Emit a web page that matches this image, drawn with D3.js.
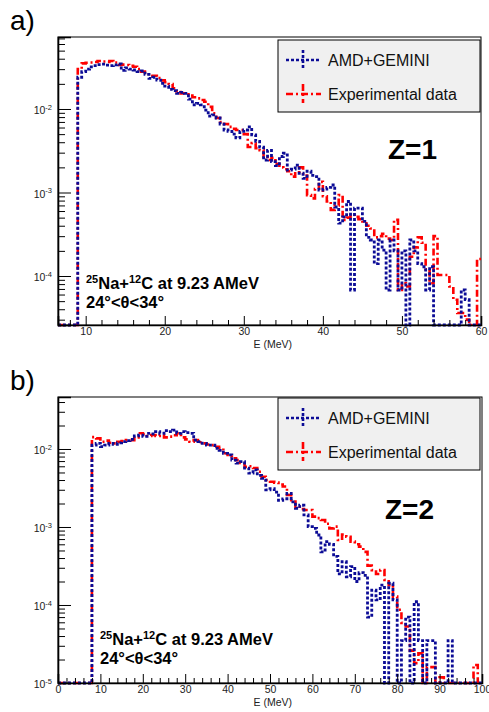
<!DOCTYPE html>
<html>
<head>
<meta charset="utf-8">
<script src="https://cdn.jsdelivr.net/npm/d3@7"></script>
<style>
body { margin: 0; background: #fff; }
svg { display: block; }
text { font-family: "Liberation Sans", Arial, Helvetica, sans-serif; }
</style>
</head>
<body>
<div id="chart"></div>
<script>
// Z=1 spectra: 0.5 MeV bins starting at 9 MeV
const z1Start = 9, z1Width = 0.5;
const z1Amd = [0.024,0.028,0.030,0.032,0.033,0.034,0.0345,0.0335,0.033,0.0337,
  0.0346,0.029,0.031,0.030,0.0293,0.028,0.0285,0.026,0.0233,0.024,
  0.0222,0.0203,0.0188,0.0172,0.0166,0.0154,0.0158,0.0154,0.0131,0.0112,
  0.0117,0.0112,0.0097,0.0082,0.0085,0.0078,0.0066,0.0056,0.0054,0.0050,
  0.0045,0.0054,0.0056,0.0061,0.0049,0.0041,0.0035,0.00245,0.0032,0.00234,
  0.0021,0.0027,0.00295,0.00186,0.0019,0.00213,0.0017,0.00148,0.0018,0.0016,
  0.00155,0.00107,0.0011,0.00115,0.00123,0.00067,0.00043,0.00051,0.00078,0.000068,
  0.00065,0.00065,0.00045,0.00029,0.00027,0.000141,0.00027,0.000204,0.000068,0.00027,
  0.0002,0.000068,0.0002,0,0.00027,0.0002,0.000141,0.000129,0.000068,0.000129,
  0,0,0,0,0,0,0,0.000068,0.000052,0,
  0,0];
const z1Exp = [0.030,0.0352,0.0358,0.036,0.0365,0.0376,0.037,0.0365,0.0376,0.036,
  0.0337,0.034,0.0337,0.033,0.0321,0.030,0.028,0.027,0.0248,0.025,
  0.0235,0.022,0.021,0.0199,0.0177,0.016,0.0154,0.0150,0.0145,0.0138,
  0.0134,0.0128,0.0122,0.0106,0.0089,0.0078,0.0070,0.0066,0.0061,0.0058,
  0.0056,0.0056,0.0050,0.0035,0.0039,0.0034,0.0032,0.0027,0.00245,0.0026,
  0.0022,0.0020,0.0019,0.0018,0.00155,0.0017,0.0020,0.0016,0.00093,0.00085,
  0.0011,0.00134,0.0009,0.00078,0.00062,0.0007,0.00093,0.00047,0.0005,0.00054,
  0.00051,0.00048,0.00045,0.00040,0.00037,0.00029,0.00030,0.00032,0.00028,0.00027,
  0.00047,0.000068,0.000082,0.000075,0.00017,0.00022,0.00029,0.00025,0.00012,0.000082,
  0.0003,0.000103,0.000103,0.000103,0.000075,0.000052,0.000036,0.000036,0.00003,0,
  0,0.00016];

// Z=2 spectra: 1 MeV bins starting at 8 MeV
const z2Start = 8, z2Width = 1;
const z2Amd = [0.0112,0.0118,0.0107,0.0112,0.0118,0.0115,0.012,0.0124,0.0128,0.0133,
  0.0147,0.0151,0.0145,0.0159,0.0156,0.0167,0.0159,0.0172,0.0167,0.0175,
  0.0159,0.0167,0.0162,0.0159,0.013,0.0124,0.0118,0.0112,0.0112,0.0102,
  0.0096,0.0088,0.0084,0.0072,0.0066,0.0069,0.0057,0.0049,0.0054,0.0046,
  0.0042,0.0030,0.0031,0.0028,0.0022,0.0023,0.0027,0.0021,0.00174,0.0019,
  0.00143,0.00101,0.00096,0.00079,0.00048,0.00065,0.0006,0.00042,0.00025,0.00036,
  0.00023,0.00031,0.0002,0.00026,0.00024,0.00007,0.000155,0.000116,0.00018,0,
  0.00019,0.000116,0,0.000035,0.00007,0,0.00011,0.000035,0,0.000035,
  0.000035,0,0,0,0.000035,0,0,0,0,0,
  0,0];
const z2Exp = [0.0142,0.0137,0.0124,0.0128,0.012,0.0118,0.0124,0.0126,0.013,0.013,
  0.0141,0.0159,0.0155,0.0147,0.0151,0.0147,0.0151,0.0141,0.0144,0.015,
  0.0159,0.0141,0.0133,0.0124,0.013,0.0122,0.0118,0.0114,0.0112,0.0107,
  0.0102,0.0088,0.0080,0.0076,0.0072,0.0066,0.0059,0.0060,0.0057,0.0051,
  0.0044,0.0040,0.0038,0.0037,0.0035,0.0033,0.00257,0.0022,0.00182,0.0017,
  0.00165,0.00165,0.00136,0.0013,0.00123,0.0011,0.00096,0.00101,0.00068,0.0008,
  0.00075,0.00065,0.0006,0.00056,0.00048,0.00032,0.00028,0.00025,0.00028,0.00021,
  0.00018,0.000128,0.000087,0.000059,0.000053,0.000026,0.000018,0.000024,0,0.000016,
  0.000016,0,0.0000118,0,0,0,0,0,0,0,
  0.000017,0];

const xTicksZ1 = [10, 20, 30, 40, 50, 60];
const xTicksZ2 = [0, 10, 20, 30, 40, 50, 60, 70, 80, 90, 100];
const legendLabels = ['AMD+GEMINI', 'Experimental data'];

const blue = '#0c0c96', red = '#ff0000';
const blueDash = '3,2', redDash = '7,3,2,3';

const svg = d3.select('#chart').append('svg')
  .attr('width', 489)
  .attr('height', 712);

function steps(vals, start, w, x0) {
  let pts = [{e: x0, v: 0}];
  vals.forEach(function (v, i) { pts.push({e: start + i * w, v: v}); });
  pts.push({e: start + vals.length * w, v: vals[vals.length - 1]});
  return pts;
}

function panel(o) {
  let g = svg.append('g');
  let x = d3.scaleLinear().domain(o.xDomain).range([o.left, o.right]);
  let y = d3.scaleLog().domain(o.yDomain).range([o.bottom, o.top]).clamp(true);
  let yMin = o.yDomain[0];

  // log ticks: majors at decades, minors at 2..9
  let majors = [], minors = [];
  for (let e = -6; e <= -1; e++) {
    for (let k = 1; k <= 9; k++) {
      let v = k * Math.pow(10, e);
      if (v < yMin * 0.999 || v > o.yDomain[1]) continue;
      if (k === 1) majors.push(v); else minors.push(v);
    }
  }
  let xMinor = d3.range(Math.ceil(o.xDomain[0] / 2) * 2, o.xDomain[1], 2)
    .filter(function (d) { return d % 10 !== 0; });

  g.append('rect')
    .attr('x', o.left).attr('y', o.top)
    .attr('width', o.right - o.left).attr('height', o.bottom - o.top)
    .attr('fill', 'none').attr('stroke', '#000').attr('stroke-width', 1);

  // histograms
  let line = d3.line()
    .x(function (d) { return x(d.e); })
    .y(function (d) { return y(d.v > 0 ? d.v : yMin); })
    .curve(d3.curveStepAfter);
  g.append('path')
    .attr('d', line(steps(o.exp, o.start, o.width, o.xDomain[0])))
    .attr('fill', 'none').attr('stroke', red).attr('stroke-width', 2.6)
    .attr('stroke-dasharray', redDash);
  g.append('path')
    .attr('d', line(steps(o.amd, o.start, o.width, o.xDomain[0])))
    .attr('fill', 'none').attr('stroke', blue).attr('stroke-width', 2.8)
    .attr('stroke-dasharray', blueDash);

  // y axis
  let yAx = g.append('g')
    .attr('transform', 'translate(' + o.left + ',0)')
    .call(d3.axisLeft(y).tickValues(majors).tickSize(-13).tickPadding(6).tickFormat(''));
  yAx.select('.domain').attr('stroke-width', 1.6);
  yAx.selectAll('.tick text').each(function (d) {
    let t = d3.select(this)
      .attr('font-size', 10.5).attr('fill', '#222').attr('dy', '0.45em');
    t.append('tspan').text('10');
    t.append('tspan').attr('font-size', 7.5).attr('dy', '-0.6em')
      .text(Math.round(Math.log10(d)));
  });
  g.append('g')
    .attr('transform', 'translate(' + o.left + ',0)')
    .call(d3.axisLeft(y).tickValues(minors).tickSize(-7).tickFormat(''))
    .select('.domain').remove();

  // x axis
  let xAx = g.append('g')
    .attr('transform', 'translate(0,' + o.bottom + ')')
    .call(d3.axisBottom(x).tickValues(o.xTicks).tickSize(-9).tickPadding(3).tickFormat(d3.format('d')));
  xAx.select('.domain').attr('stroke-width', 1.6);
  xAx.selectAll('.tick text').attr('font-size', 10.5).attr('fill', '#222');
  g.append('g')
    .attr('transform', 'translate(0,' + o.bottom + ')')
    .call(d3.axisBottom(x).tickValues(xMinor).tickSize(-5).tickFormat(''))
    .select('.domain').remove();
  g.selectAll('.tick line').attr('stroke', '#000');

  g.append('text')
    .attr('x', 292).attr('y', o.bottom + 23)
    .attr('text-anchor', 'end').attr('font-size', 10.5).attr('fill', '#222')
    .text('E (MeV)');

  // panel tag
  g.append('text').attr('x', 10).attr('y', o.top - 7)
    .attr('font-size', 28).text(o.tag);

  // legend
  let lg = g.append('g').attr('transform', 'translate(278,' + o.legendTop + ')');
  lg.append('rect').attr('width', 202).attr('height', 72)
    .attr('fill', '#f0f0f0').attr('stroke', '#000').attr('stroke-width', 1);
  [[blue, blueDash, 20], [red, redDash, 54]].forEach(function (s, i) {
    lg.append('line').attr('x1', 8).attr('x2', 43).attr('y1', s[2]).attr('y2', s[2])
      .attr('stroke', s[0]).attr('stroke-width', 2.6).attr('stroke-dasharray', s[1]);
    lg.append('line').attr('x1', 25).attr('x2', 25).attr('y1', s[2] - 10).attr('y2', s[2] + 9)
      .attr('stroke', s[0]).attr('stroke-width', 2.6).attr('stroke-dasharray', s[1]);
    lg.append('text').attr('x', 50).attr('y', s[2] + 5.5)
      .attr('font-size', 16).attr('fill', '#111').text(legendLabels[i]);
  });

  g.append('text').attr('x', o.zX).attr('y', o.zY)
    .attr('font-size', 28).attr('font-weight', 'bold').text(o.zLabel);

  // reaction annotation
  let a1 = g.append('text').attr('x', o.annoX).attr('y', o.annoY)
    .attr('font-size', 16.5).attr('font-weight', 'bold');
  a1.append('tspan').attr('font-size', 11).attr('dy', -6).text('25');
  a1.append('tspan').attr('dy', 6).text('Na+');
  a1.append('tspan').attr('font-size', 11).attr('dy', -6).text('12');
  a1.append('tspan').attr('dy', 6).text('C at 9.23 AMeV');
  g.append('text').attr('x', o.annoX).attr('y', o.annoY + 18.5)
    .attr('font-size', 16.5).attr('font-weight', 'bold')
    .text('24°<θ<34°');
}

panel({
  left: 58, right: 481, top: 37, bottom: 325,
  xDomain: [6.5, 60], yDomain: [2.59e-5, 0.0728], xTicks: xTicksZ1,
  amd: z1Amd, exp: z1Exp, start: z1Start, width: z1Width,
  tag: 'a)', legendTop: 40, zLabel: 'Z=1', zX: 388, zY: 159,
  annoX: 86, annoY: 289
});

panel({
  left: 58, right: 482, top: 397, bottom: 683,
  xDomain: [0, 100], yDomain: [1e-5, 0.0464], xTicks: xTicksZ2,
  amd: z2Amd, exp: z2Exp, start: z2Start, width: z2Width,
  tag: 'b)', legendTop: 398, zLabel: 'Z=2', zX: 385, zY: 519,
  annoX: 100, annoY: 645
});
</script>
</body>
</html>
